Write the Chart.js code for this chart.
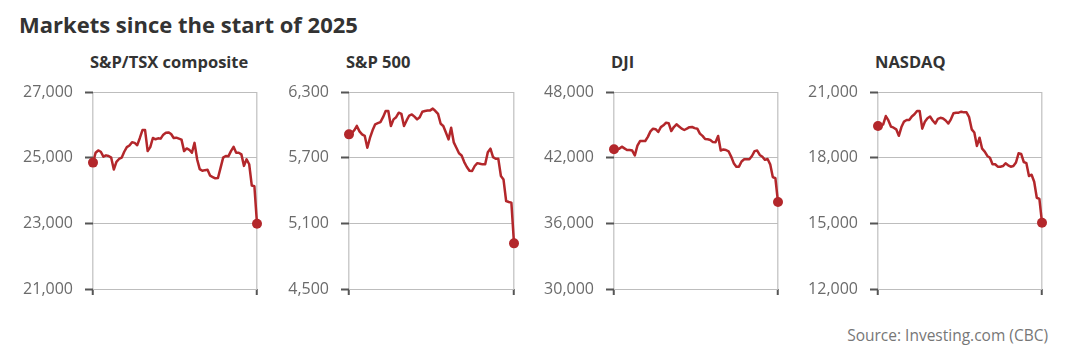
<!DOCTYPE html>
<html>
<head>
<meta charset="utf-8">
<script src="https://cdn.jsdelivr.net/npm/chart.js@4.4.1/dist/chart.umd.min.js"></script>
<style>
  html, body { margin: 0; padding: 0; background: #ffffff; }
  body { width: 1080px; height: 356px; position: relative; overflow: hidden; font-family: "Open Sans", "Noto Sans", sans-serif; }
  #title { position: absolute; left: 19px; top: 9px; font-size: 22px; font-weight: 700; color: #333333; white-space: nowrap; }
  .ptitle { position: absolute; top: 50px; font-size: 16.5px; font-weight: 700; color: #333333; white-space: nowrap; }
  .cv { position: absolute; top: 72px; }
  #source { position: absolute; right: 32px; top: 324px; font-size: 15.5px; color: #777777; white-space: nowrap; }
</style>
</head>
<body>
<div id="title">Markets since the start of 2025</div>
<div id="source">Source: Investing.com (CBC)</div>
<script>
// ---- Data ----
const dates = [
  "2025-01-02","2025-01-03","2025-01-06","2025-01-07","2025-01-08","2025-01-10","2025-01-13","2025-01-14",
  "2025-01-15","2025-01-16","2025-01-17","2025-01-21","2025-01-22","2025-01-23","2025-01-24","2025-01-27",
  "2025-01-28","2025-01-29","2025-01-30","2025-01-31","2025-02-03","2025-02-04","2025-02-05","2025-02-06",
  "2025-02-07","2025-02-10","2025-02-11","2025-02-12","2025-02-13","2025-02-14","2025-02-18","2025-02-19",
  "2025-02-20","2025-02-21","2025-02-24","2025-02-25","2025-02-26","2025-02-27","2025-02-28","2025-03-03",
  "2025-03-04","2025-03-05","2025-03-06","2025-03-07","2025-03-10","2025-03-11","2025-03-12","2025-03-13",
  "2025-03-14","2025-03-17","2025-03-18","2025-03-19","2025-03-20","2025-03-21","2025-03-24","2025-03-25",
  "2025-03-26","2025-03-27","2025-03-28","2025-03-31","2025-04-01","2025-04-02","2025-04-03","2025-04-04"
];

const panelTitles = ["S&P/TSX composite", "S&P 500", "DJI", "NASDAQ"];

const tsx = [
  24850,25150,25220,25180,25030,25070,25050,25000,24640,24870,24960,25000,25180,25320,25370,25470,
  25450,25380,25600,25840,25840,25200,25320,25600,25560,25590,25580,25700,25760,25770,25720,25600,
  25610,25580,25550,25200,25280,25240,25150,25450,24950,24650,24600,24620,24630,24450,24410,24370,
  24380,24690,25000,25050,25040,25200,25330,25150,25150,25100,24750,24950,24800,24150,24130,22990
];

const sp500 = [
  5913,5922,5950,5990,5940,5913,5900,5791,5880,5950,6005,6015,6025,6070,6126,6126,
  5990,6050,6070,6111,6100,5990,6040,6085,6095,6075,6050,6070,6120,6126,6130,6132,
  6148,6126,6100,6010,5990,5930,5867,5974,5840,5791,5740,5720,5660,5615,5580,5578,
  5624,5650,5645,5639,5640,5750,5782,5705,5690,5691,5532,5500,5304,5295,5289,4917
];

const dji = [
  42761,42761,42822,43005,42850,42700,42700,42650,42213,43100,43520,43520,43520,43900,44400,44650,
  44600,44345,44790,44954,45198,45150,44436,44800,45045,44850,44650,44528,44650,44790,44800,44700,
  44650,44200,43990,43700,43675,43614,43420,43400,43979,42650,42750,42700,42580,42100,41500,41177,
  41177,41650,41850,41847,41847,42150,42600,42650,42250,42091,41800,41880,41390,40230,40120,37948
];

const nasdaq = [
  19447,19447,19520,19903,19700,19416,19370,19294,19000,19400,19650,19720,19721,19880,19980,20132,
  20132,19325,19640,19800,19880,19700,19560,19770,19820,19790,19700,19560,19751,20030,20056,20056,
  20100,20070,20070,19850,19294,19150,18533,18914,18411,18280,18080,18000,17700,17700,17588,17588,
  17619,17740,17650,17588,17620,17780,18200,18170,17802,17750,17162,17220,16900,16170,16120,15030
];

const yTicksTSX = [21000, 23000, 25000, 27000];
const yTicksSP = [4500, 5100, 5700, 6300];
const yTicksDJI = [30000, 36000, 42000, 48000];
const yTicksNDQ = [12000, 15000, 18000, 21000];

// ---- Layout (styling only) ----
const panels = [
  { title: panelTitles[0], values: tsx, ticks: yTicksTSX, plotLeft: 93, plotRight: 257 },
  { title: panelTitles[1], values: sp500, ticks: yTicksSP, plotLeft: 349, plotRight: 514 },
  { title: panelTitles[2], values: dji, ticks: yTicksDJI, plotLeft: 614, plotRight: 778 },
  { title: panelTitles[3], values: nasdaq, ticks: yTicksNDQ, plotLeft: 878, plotRight: 1042 }
];

const AXIS_W = 80;
const PAD_R = 10;
const PAD_T = 20;
const PLOT_H = 197;
const CANVAS_H = 238;
const RED = "#b3272b";
const FONT = "'Open Sans', 'Noto Sans', sans-serif";

panels.forEach((p) => {
  const t = document.createElement("div");
  t.className = "ptitle";
  t.style.left = (p.plotLeft - 3) + "px";
  t.textContent = p.title;
  document.body.appendChild(t);

  const cv = document.createElement("canvas");
  cv.className = "cv";
  const w = AXIS_W + (p.plotRight - p.plotLeft) + PAD_R;
  cv.width = w; cv.height = CANVAS_H;
  cv.style.width = w + "px"; cv.style.height = CANVAS_H + "px";
  cv.style.left = (p.plotLeft - AXIS_W) + "px";
  document.body.appendChild(cv);

  const n = p.values.length;
  const minV = p.ticks[0], maxV = p.ticks[p.ticks.length - 1];
  const step = p.ticks[1] - p.ticks[0];

  new Chart(cv.getContext("2d"), {
    type: "line",
    data: {
      labels: dates,
      datasets: [{
        data: p.values,
        borderColor: RED,
        backgroundColor: RED,
        borderWidth: 2.5,
        tension: 0,
        clip: false,
        pointRadius: (c) => (c.dataIndex === 0 || c.dataIndex === n - 1) ? 5 : 0,
        pointHoverRadius: 0,
        pointBorderWidth: 0,
        pointBackgroundColor: RED,
        borderJoinStyle: "round",
        borderCapStyle: "round"
      }]
    },
    options: {
      responsive: false,
      animation: false,
      devicePixelRatio: 1,
      layout: { padding: { top: PAD_T, right: PAD_R, bottom: 0, left: 0 } },
      plugins: { legend: { display: false }, tooltip: { enabled: false }, title: { display: false } },
      events: [],
      scales: {
        x: {
          type: "category",
          offset: false,
          border: { display: false },
          ticks: { display: false },
          grid: {
            drawOnChartArea: true,
            color: (c) => (c.index === 0 || c.index === n - 1) ? "#cccccc" : "rgba(0,0,0,0)",
            lineWidth: 1.5,
            tickColor: (c) => (c.index === 0 || c.index === n - 1) ? "#555555" : "rgba(0,0,0,0)",
            tickLength: 6,
            tickWidth: 2
          },
          afterFit: (s) => { s.height = CANVAS_H - PAD_T - PLOT_H; }
        },
        y: {
          type: "linear",
          min: minV,
          max: maxV,
          border: { display: false },
          ticks: {
            stepSize: step,
            padding: 9,
            color: "#6b6b6b",
            font: { family: FONT, size: 16 },
            callback: (v) => Number(v).toLocaleString("en-US")
          },
          grid: {
            color: "#bdbdbd",
            lineWidth: 1,
            borderDash: [2, 3],
            tickColor: "#555555",
            tickLength: 11,
            tickWidth: 2,
            tickBorderDash: [8, 3],
            tickBorderDashOffset: 8
          },
          afterFit: (s) => { s.width = AXIS_W; }
        }
      }
    }
  });
});
</script>
</body>
</html>
